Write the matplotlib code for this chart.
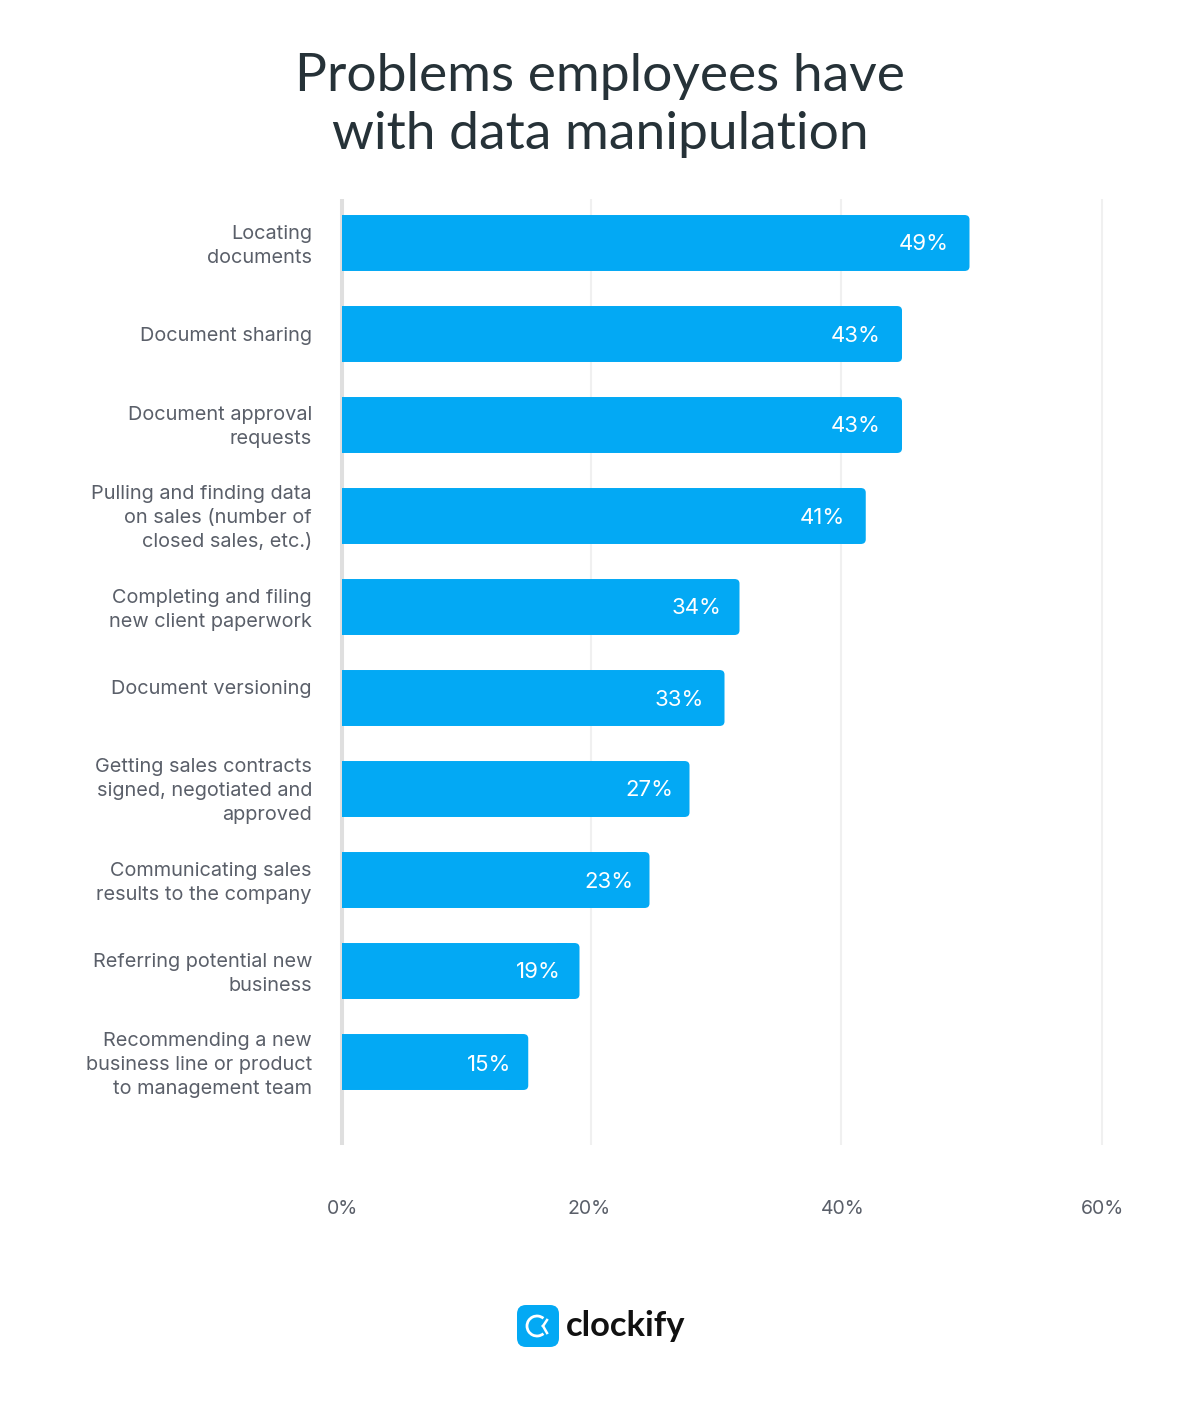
import matplotlib
matplotlib.use("Agg")
from matplotlib import pyplot as plt
from matplotlib.patches import FancyBboxPatch, Arc

W, H = 1200, 1407

categories = [
    "Locating\ndocuments",
    "Document sharing",
    "Document approval\nrequests",
    "Pulling and finding data\non sales (number of\nclosed sales, etc.)",
    "Completing and filing\nnew client paperwork",
    "Document versioning",
    "Getting sales contracts\nsigned, negotiated and\napproved",
    "Communicating sales\nresults to the company",
    "Referring potential new\nbusiness",
    "Recommending a new\nbusiness line or product\nto management team",
]
value_labels = ["49%", "43%", "43%", "41%", "34%", "33%", "27%", "23%", "19%", "15%"]
# drawn lengths, they do not quite agree with the printed labels in the original
bar_lengths = [50.2, 44.8, 44.8, 41.9, 31.8, 30.6, 27.8, 24.6, 19.0, 14.9]
tick_labels = ["0%", "20%", "40%", "60%"]

# layout
grid_positions = [19.9, 39.9, 60.8]
tick_positions = [0.05, 19.8, 40.1, 60.85]
value_label_x = [48.55, 43.1, 43.1, 40.25, 30.35, 28.95, 26.55, 23.35, 17.5, 13.55]
label_shift = [0.022, 0.01, 0.011, 0.011, 0.022, -0.109, 0.011, 0.021, 0.022, 0.022]
value_shift = [0, 0.01, 0, 0.01, 0, 0.01, 0, 0.01, 0, 0.02]

BLUE = "#03a9f4"
GREY = "#5a5f69"
DARK = "#263238"

fig = plt.figure(figsize=(W / 100, H / 100), dpi=100, facecolor="white")
ax = fig.add_axes([342 / W, 1 - 1145 / H, 760 / W, 946 / H])
ax.set_xlim(0, 60.8)
ax.set_ylim(9.912, -0.4835)
ax.axis("off")

for g in grid_positions:
    ax.axvline(g, color="#f0f0f0", lw=1.5, zorder=1, clip_on=False, solid_capstyle="butt")
ax.axvline(0, color="#dfdfdf", lw=2.9, zorder=1, clip_on=False, solid_capstyle="butt")

bar_h = 0.615
for i, val in enumerate(bar_lengths):
    ax.barh(i, val - 1, height=bar_h, color=BLUE, zorder=2, snap=False, lw=0)
    ax.add_patch(FancyBboxPatch((val - 2, i - bar_h / 2), 2, bar_h,
                                boxstyle="round,pad=0,rounding_size=0.4",
                                mutation_aspect=0.125, fc=BLUE, ec="none", zorder=2))
    ax.text(value_label_x[i], i + 0.015 + value_shift[i], value_labels[i], color="white",
            fontsize=16, family="Inter", ha="right", va="center", zorder=3)
    ax.text(-2.4, i + 0.01 + label_shift[i], categories[i], color=GREY, fontsize=14.35,
            family="Inter", ha="right", va="center", linespacing=1.4)

for pos, lab in zip(tick_positions, tick_labels):
    ax.annotate(lab, (pos, 9.912), xytext=(0, -62 * 0.72 - 1.4), textcoords="offset points",
                color=GREY, fontsize=14, family="Inter", ha="center", va="center",
                annotation_clip=False)

fig.text(0.5, 1 - 105.5 / H, "Problems employees have\nwith data manipulation", color=DARK,
         fontsize=38.4, family="Lato", ha="center", va="center", linespacing=1.29)

# logo, in pixel coordinates
logo = fig.add_axes([0, 0, 1, 1])
logo.set_xlim(0, W)
logo.set_ylim(H, 0)
logo.axis("off")
logo.patch.set_alpha(0)
logo.add_patch(FancyBboxPatch((517, 1305), 42, 42, boxstyle="round,pad=0,rounding_size=9",
                              fc=BLUE, ec="none"))
logo.add_patch(Arc((537, 1326), 20, 20, theta1=50, theta2=310, color="white", lw=2))
logo.plot([543, 547], [1326, 1320], color="white", lw=1.8)
logo.plot([543, 547], [1326, 1333], color="white", lw=1.8)
logo.text(566, 1325.5, "clockify", color="#111111", fontsize=24.8, family="Lato", weight="bold",
          ha="left", va="center")

fig.savefig("out.png", dpi=100, facecolor="white")
